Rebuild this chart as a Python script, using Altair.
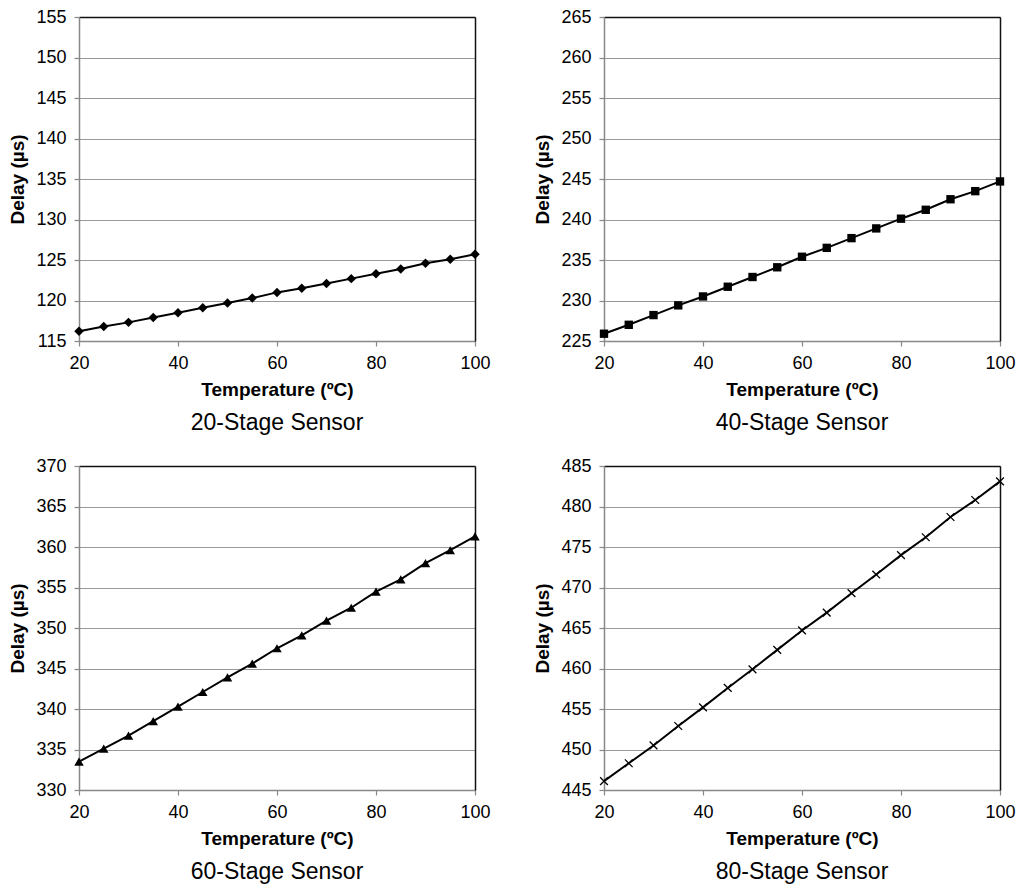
import altair as alt
import pandas as pd

temps = [20, 25, 30, 35, 40, 45, 50, 55, 60, 65, 70, 75, 80, 85, 90, 95, 100]

delay_20 = [116.2, 116.8, 117.3, 117.9, 118.5, 119.1, 119.7, 120.3, 121.0,
            121.5, 122.1, 122.7, 123.3, 123.9, 124.6, 125.1, 125.7]
delay_40 = [225.9, 227.0, 228.2, 229.4, 230.5, 231.7, 232.9, 234.1, 235.4,
            236.5, 237.7, 238.9, 240.1, 241.2, 242.5, 243.5, 244.7]
delay_60 = [333.5, 335.1, 336.7, 338.5, 340.3, 342.1, 343.9, 345.6, 347.5,
            349.1, 350.9, 352.5, 354.5, 356.0, 358.0, 359.6, 361.3]
delay_80 = [446.1, 448.3, 450.5, 452.9, 455.2, 457.6, 459.9, 462.3, 464.7,
            466.9, 469.3, 471.6, 474.0, 476.2, 478.7, 480.8, 483.1]

titles = ["20-Stage Sensor", "40-Stage Sensor", "60-Stage Sensor", "80-Stage Sensor"]
y_domains = [[115, 155], [225, 265], [330, 370], [445, 485]]
x_ticks = [20, 40, 60, 80, 100]

FONT = "Liberation Sans"
W, H = 396, 324


def panel(values, domain, shape, filled, size, title):
    df = pd.DataFrame({"t": temps, "d": values})
    yticks = list(range(domain[0], domain[1] + 1, 5))
    xs = alt.Scale(domain=[20, 100], nice=False)
    ys = alt.Scale(domain=domain, nice=False, zero=False)
    base = alt.Chart(df)
    line = base.mark_line(color="black", strokeWidth=2).encode(
        x=alt.X("t:Q", scale=xs,
                axis=alt.Axis(values=x_ticks, title="Temperature (ºC)", grid=False,
                              labelFlush=False)),
        y=alt.Y("d:Q", scale=ys,
                axis=alt.Axis(values=yticks, title="Delay (µs)", grid=True)),
    )
    frame_axis = dict(labels=False, ticks=False, grid=False, title=None,
                      domainColor="#111", domainWidth=1.5)
    pts = base.mark_point(shape=shape, filled=filled, size=size, color="black",
                          strokeWidth=1.3, opacity=1).encode(
        x=alt.X("t:Q", scale=xs, axis=alt.Axis(orient="top", **frame_axis)),
        y=alt.Y("d:Q", scale=ys, axis=alt.Axis(orient="right", **frame_axis)),
    )
    return alt.layer(line, pts).resolve_axis(x="independent", y="independent").properties(
        width=W, height=H,
        title=alt.TitleParams(title, orient="bottom", fontSize=23, font=FONT,
                              fontWeight="normal", color="black", offset=13),
    )


p1 = panel(delay_20, y_domains[0], "diamond", True, 90, titles[0])
p2 = panel(delay_40, y_domains[1], "square", True, 70, titles[1])
p3 = panel(delay_60, y_domains[2], "triangle-up", True, 90, titles[2])
p4 = panel(delay_80, y_domains[3], "M-1,-1L1,1M-1,1L1,-1", False, 60, titles[3])

chart = alt.vconcat(
    alt.hconcat(p1, p2, spacing=42),
    alt.hconcat(p3, p4, spacing=42),
    spacing=22,
).properties(
    padding=0
).configure_view(
    stroke=None
).configure_axis(
    labelFont=FONT, labelFontSize=18, labelColor="black", labelPadding=8,
    titleFont=FONT, titleFontSize=19, titleFontWeight="bold", titleColor="black",
    domainColor="#888", domainWidth=1.5, tickColor="#888", tickSize=5, tickWidth=1.2,
    gridColor="#999", gridWidth=1.2,
).configure_axisY(
    titlePadding=8,
).configure_axisX(
    titlePadding=8,
)

chart.save("out.html", embed_options={"renderer": "svg", "actions": False})
